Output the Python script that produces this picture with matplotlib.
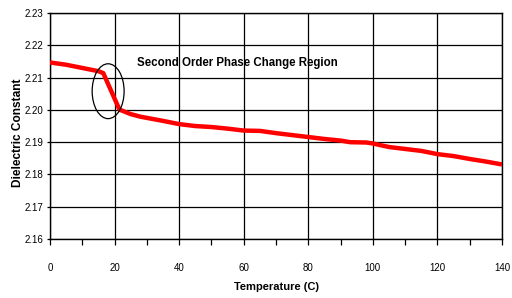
import matplotlib.pyplot as plt
from matplotlib.patches import Ellipse
from matplotlib.ticker import MultipleLocator

plt.rcParams['font.family'] = ['Liberation Sans', 'DejaVu Sans']

# temperature (C) vs dielectric constant
temp = [0, 5, 10, 15, 16.5, 21.5, 25, 28, 35, 40, 45, 50, 55, 60, 65, 70, 75,
        80, 85, 90, 93, 98, 100, 105, 110, 115, 120, 125, 130, 135, 140]
dk = [2.2147, 2.2140, 2.2130, 2.2120, 2.2114, 2.2001, 2.1987, 2.1979, 2.1966,
      2.1956, 2.1950, 2.1947, 2.1942, 2.1936, 2.1935, 2.1928, 2.1922, 2.1916,
      2.1910, 2.1905, 2.1900, 2.1899, 2.1896, 2.1885, 2.1879, 2.1873, 2.1863,
      2.1857, 2.1848, 2.1840, 2.1831]

x_ticks = [0, 20, 40, 60, 80, 100, 120, 140]
y_ticks = [2.16, 2.17, 2.18, 2.19, 2.20, 2.21, 2.22, 2.23]

fig = plt.figure(figsize=(5.12, 2.98), dpi=100)
ax = fig.add_axes([0.0977, 0.198, 0.8828, 0.758])

ax.plot(temp, dk, color='#ff0000', linewidth=3.2, solid_capstyle='butt', zorder=3)

# circle around the phase change
ax.add_patch(Ellipse((18, 2.2058), 9.9, 0.0170, fill=False,
                     edgecolor='black', linewidth=0.9, zorder=4))
ax.text(27, 2.2145, 'Second Order Phase Change Region', fontsize=8.3,
        fontweight='bold', va='center', ha='left')

ax.set_xlim(0, 140)
ax.set_ylim(2.16, 2.23)
ax.set_xticks(x_ticks)
ax.set_yticks(y_ticks)
ax.set_yticklabels([f'{v:.2f}' for v in y_ticks])
ax.xaxis.set_minor_locator(MultipleLocator(10))
ax.grid(True, which='major', color='black', linewidth=0.9)
ax.tick_params(axis='x', which='both', direction='out', length=4, width=0.9,
               pad=13, labelsize=7)
ax.tick_params(axis='y', direction='out', length=2, width=0.9, pad=3,
               labelsize=7)
for s in ax.spines.values():
    s.set_linewidth(1.0)
    s.set_color('black')

ax.set_xlabel('Temperature (C)', fontsize=8, fontweight='bold', labelpad=7)
ax.set_ylabel('Dielectric Constant', fontsize=8.6, fontweight='bold')
ax.yaxis.set_label_coords(-0.057, 0.47)

fig.savefig('out.png', dpi=100)
